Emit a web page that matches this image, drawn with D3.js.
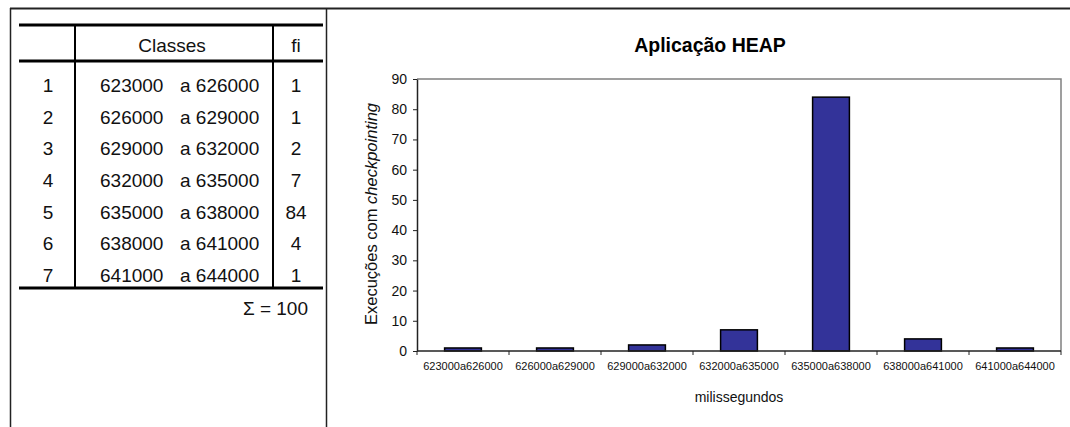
<!DOCTYPE html>
<html>
<head>
<meta charset="utf-8">
<script src="https://cdn.jsdelivr.net/npm/d3@7"></script>
<style>
  html, body { margin: 0; padding: 0; background: #fff; }
  svg { display: block; font-family: Arial, "Liberation Sans", sans-serif; }
</style>
</head>
<body>
<svg id="page" width="1070" height="427"></svg>
<script>
// Frequency table of execution times (HEAP application)
const classIndex = [1, 2, 3, 4, 5, 6, 7];
const classFrom = ["623000", "626000", "629000", "632000", "635000", "638000", "641000"];
const classTo = ["a 626000", "a 629000", "a 632000", "a 635000", "a 638000", "a 641000", "a 644000"];
const categories = ["623000a626000", "626000a629000", "629000a632000", "632000a635000",
                    "635000a638000", "638000a641000", "641000a644000"];
const frequencies = [1, 1, 2, 7, 84, 4, 1];
const yTicks = [0, 10, 20, 30, 40, 50, 60, 70, 80, 90];
const total = d3.sum(frequencies);

const svg = d3.select("#page");

// ---- outer frame ----
svg.append("line").attr("x1", 10).attr("x2", 1070).attr("y1", 8.5).attr("y2", 8.5)
  .attr("stroke", "#222").attr("stroke-width", 2);
svg.append("line").attr("x1", 10.5).attr("x2", 10.5).attr("y1", 8).attr("y2", 427)
  .attr("stroke", "#222").attr("stroke-width", 1.5);
svg.append("line").attr("x1", 326.5).attr("x2", 326.5).attr("y1", 8).attr("y2", 427)
  .attr("stroke", "#222").attr("stroke-width", 1.5);

// ---- table ----
const table = svg.append("g").attr("font-size", 19).attr("fill", "#111");
const rowY = d3.scaleLinear().domain([0, 6]).range([92, 282]);
[25, 61, 288].forEach(y => {
  table.append("line").attr("x1", 19).attr("x2", 323).attr("y1", y).attr("y2", y)
    .attr("stroke", "#000").attr("stroke-width", 3);
});
[75, 273].forEach(x => {
  table.append("line").attr("x1", x).attr("x2", x).attr("y1", 25).attr("y2", 288)
    .attr("stroke", "#000").attr("stroke-width", 2);
});
table.append("text").attr("x", 172).attr("y", 52).attr("text-anchor", "middle").text("Classes");
table.append("text").attr("x", 296).attr("y", 52).attr("text-anchor", "middle").text("fi");

const rows = table.selectAll("g.row").data(classIndex).join("g").attr("class", "row")
  .attr("transform", (d, i) => `translate(0,${rowY(i)})`);
rows.append("text").attr("x", 48).attr("text-anchor", "middle").text(d => d);
rows.append("text").attr("x", 100).text((d, i) => classFrom[i]);
rows.append("text").attr("x", 180).text((d, i) => classTo[i]);
rows.append("text").attr("x", 296).attr("text-anchor", "middle").text((d, i) => frequencies[i]);

table.append("text").attr("x", 308).attr("y", 315).attr("text-anchor", "end")
  .text("\u03A3 = " + total);

// ---- bar chart ----
const margin = { left: 417, right: 1061, top: 79, bottom: 351 };
const x = d3.scaleBand().domain(categories).range([margin.left, margin.right])
  .paddingInner(0.6).paddingOuter(0.3);
const xEdges = d3.scalePoint().domain(d3.range(categories.length + 1))
  .range([margin.left, margin.right]);
const y = d3.scaleLinear().domain([0, 90]).range([margin.bottom, margin.top]);

const chart = svg.append("g");

// plot frame: grey top and right edges
chart.append("path")
  .attr("d", `M${margin.left},${margin.top}H${margin.right}V${margin.bottom}`)
  .attr("fill", "none").attr("stroke", "#808080").attr("stroke-width", 1.5);

// bars
chart.selectAll("rect.bar").data(frequencies).join("rect").attr("class", "bar")
  .attr("x", (d, i) => x(categories[i]))
  .attr("width", x.bandwidth())
  .attr("y", d => y(d))
  .attr("height", d => y(0) - y(d))
  .attr("fill", "#333399").attr("stroke", "#000").attr("stroke-width", 1.5);

// y axis
const yAxis = chart.append("g").attr("transform", `translate(${margin.left},0)`)
  .call(d3.axisLeft(y).tickValues(yTicks).tickSize(4).tickPadding(6).tickSizeOuter(0));
yAxis.select(".domain").attr("stroke", "#222").attr("stroke-width", 1.5);
yAxis.selectAll(".tick line").attr("stroke", "#222");
yAxis.selectAll(".tick text").attr("font-size", 14).attr("font-family", "Arial, 'Liberation Sans', sans-serif")
  .attr("fill", "#111");

// x axis: ticks at category boundaries, labels centred in bands
const xAxisG = chart.append("g").attr("transform", `translate(0,${margin.bottom})`);
xAxisG.append("line").attr("x1", margin.left).attr("x2", margin.right)
  .attr("stroke", "#222").attr("stroke-width", 1.5);
xAxisG.selectAll("line.edge").data(xEdges.domain()).join("line").attr("class", "edge")
  .attr("x1", d => xEdges(d)).attr("x2", d => xEdges(d))
  .attr("y1", 0).attr("y2", 4).attr("stroke", "#222");
xAxisG.selectAll("text").data(categories).join("text")
  .attr("x", d => x(d) + x.bandwidth() / 2).attr("y", 19)
  .attr("text-anchor", "middle").attr("font-size", 11).attr("fill", "#111")
  .text(d => d);

// titles
chart.append("text").attr("x", 710).attr("y", 52).attr("text-anchor", "middle")
  .attr("font-size", 19.5).attr("font-weight", "bold").attr("fill", "#000")
  .text("Aplicação HEAP");
chart.append("text").attr("x", 739).attr("y", 402).attr("text-anchor", "middle")
  .attr("font-size", 14).attr("fill", "#111").text("milissegundos");
const yTitle = chart.append("text")
  .attr("transform", "translate(377,214) rotate(-90)")
  .attr("text-anchor", "middle").attr("font-size", 16.5).attr("fill", "#111");
yTitle.append("tspan").text("Execuções com ");
yTitle.append("tspan").attr("font-style", "italic").text("checkpointing");
</script>
</body>
</html>
